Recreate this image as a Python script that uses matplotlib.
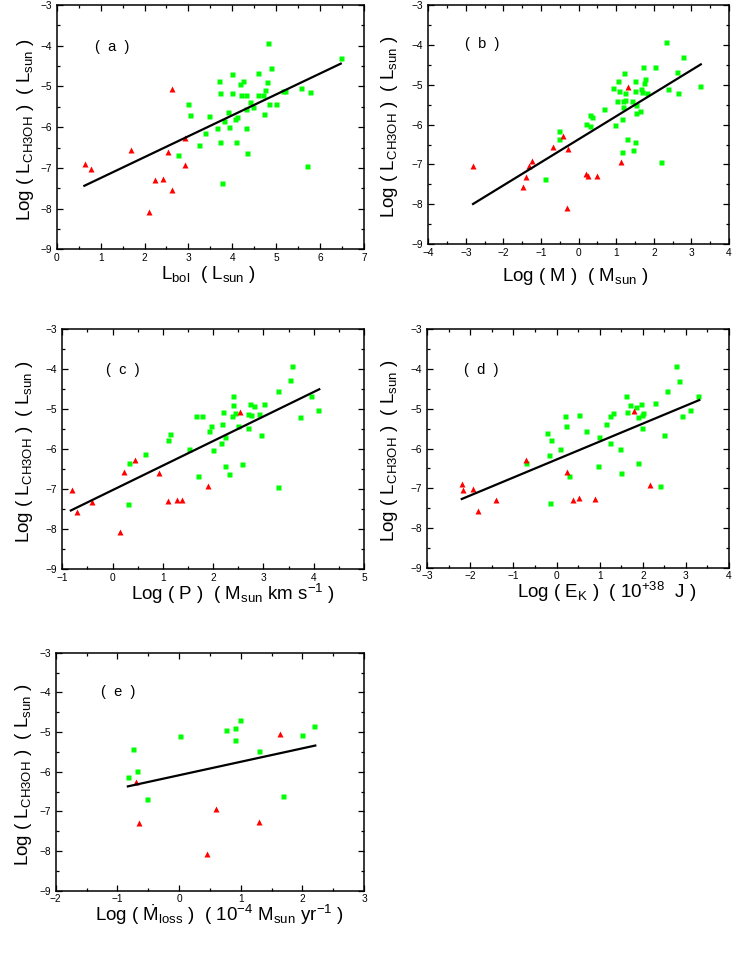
import matplotlib
matplotlib.use("Agg")
import matplotlib.pyplot as plt
from matplotlib.ticker import MultipleLocator

plt.rcParams['font.family'] = ['Liberation Sans', 'DejaVu Sans']
plt.rcParams['mathtext.fontset'] = 'custom'
plt.rcParams['mathtext.rm'] = 'Liberation Sans'
plt.rcParams['mathtext.it'] = 'Liberation Sans'

# ---- data ----
# (a) L_bol
a_red_x = [0.65, 0.78, 1.69, 2.63, 2.11, 2.23, 2.41, 2.53, 2.63, 2.92, 2.92]
a_red_y = [-6.90, -7.03, -6.56, -5.07, -8.08, -7.30, -7.28, -6.60, -7.55, -6.27, -6.93]
a_grn_x = [2.77, 2.98, 3.04, 3.25, 3.37, 3.46, 3.64, 3.70, 3.73, 3.73, 3.77, 3.80,
           3.91, 3.93, 3.99, 3.99, 4.05, 4.10, 4.09, 4.17, 4.24, 4.20, 4.31, 4.31,
           4.32, 4.34, 4.40, 4.47, 4.59, 4.58, 4.70, 4.74, 4.73, 4.79, 4.82, 4.84,
           4.89, 4.99, 5.15, 5.21, 5.57, 5.69, 5.76, 6.47]
a_grn_y = [-6.69, -5.42, -5.71, -6.43, -6.14, -5.73, -6.03, -4.87, -5.17, -6.37, -7.38, -5.86,
           -5.63, -6.00, -4.69, -5.15, -5.80, -5.75, -6.36, -4.95, -4.86, -5.21, -5.21, -5.55,
           -6.01, -6.63, -5.39, -5.50, -4.68, -5.20, -5.20, -5.09, -5.67, -4.90, -3.94, -5.42,
           -4.55, -5.43, -5.11, -5.11, -5.04, -6.95, -5.14, -4.30]
a_fit_x = [0.63, 6.47]
a_fit_y = [-7.44, -4.44]

# (b) M
b_red_x = [-2.81, -1.48, -1.41, -1.32, -1.23, -0.69, -0.41, -0.32, -0.28, 0.20, 0.24, 0.50, 1.12, 1.31]
b_red_y = [-7.03, -7.57, -7.32, -7.05, -6.91, -6.57, -6.28, -8.09, -6.61, -7.25, -7.28, -7.30, -6.94, -5.06]
b_grn_x = [-0.90, -0.53, -0.53, 0.29, 0.36, 0.20, 0.31, 0.68, 0.91, 0.98, 1.04, 1.06, 1.03,
           1.17, 1.16, 1.19, 1.21, 1.22, 1.24, 1.28, 1.14, 1.41, 1.45, 1.50, 1.51, 1.51,
           1.53, 1.53, 1.62, 1.65, 1.69, 1.70, 1.74, 1.76, 1.83, 2.02, 2.18, 2.33, 2.39,
           2.62, 2.64, 2.78, 3.23]
b_grn_y = [-7.37, -6.15, -6.37, -5.75, -5.80, -5.99, -6.03, -5.62, -5.09, -6.02, -4.91, -5.17, -5.42,
           -5.42, -5.85, -5.55, -4.70, -5.20, -5.38, -6.37, -6.69, -5.42, -6.63, -6.43, -4.90, -5.16,
           -5.50, -5.72, -5.67, -5.11, -5.19, -4.55, -4.96, -4.86, -5.21, -4.55, -6.94, -3.94, -5.11,
           -4.67, -5.21, -4.30, -5.04]
b_fit_x = [-2.81, 3.25]
b_fit_y = [-7.99, -4.49]

# (c) P
c_red_x = [-0.81, -0.71, -0.41, 0.15, 0.23, 0.45, 0.92, 1.11, 1.29, 1.39, 1.90, 2.54]
c_red_y = [-7.03, -7.57, -7.32, -8.08, -6.56, -6.27, -6.59, -7.29, -7.26, -7.28, -6.92, -5.06]
c_grn_x = [0.31, 0.33, 0.64, 1.10, 1.15, 1.51, 1.65, 1.69, 1.77, 1.91, 1.95, 2.00, 2.16,
           2.18, 2.20, 2.23, 2.24, 2.32, 2.37, 2.40, 2.40, 2.44, 2.50, 2.57, 2.70, 2.70,
           2.73, 2.75, 2.81, 2.91, 2.96, 3.02, 3.28, 3.29, 3.53, 3.56, 3.72, 3.95, 4.09]
c_grn_y = [-7.38, -6.35, -6.13, -5.78, -5.61, -6.00, -5.18, -6.68, -5.16, -5.55, -5.41, -6.02, -5.85,
           -5.38, -5.07, -6.42, -5.70, -6.61, -5.18, -4.68, -4.90, -5.10, -5.41, -6.36, -5.48, -5.13,
           -4.88, -5.15, -4.93, -5.11, -5.65, -4.86, -4.54, -6.95, -4.28, -3.92, -5.20, -4.68, -5.02]
c_fit_x = [-0.83, 4.11]
c_fit_y = [-7.53, -4.50]

# (d) E_K
d_red_x = [-2.20, -2.18, -1.93, -1.83, -1.41, -0.70, 0.24, 0.37, 0.53, 0.88, 1.80, 2.16]
d_red_y = [-6.90, -7.04, -7.02, -7.56, -7.30, -6.28, -6.59, -7.30, -7.25, -7.27, -5.06, -6.92]
d_grn_x = [-0.70, -0.23, -0.17, -0.12, -0.16, 0.07, 0.20, 0.22, 0.29, 0.53, 0.68, 0.98, 0.97,
           1.14, 1.23, 1.25, 1.30, 1.47, 1.50, 1.60, 1.63, 1.70, 1.84, 1.90, 1.90, 1.95,
           1.98, 2.01, 1.99, 2.29, 2.41, 2.49, 2.56, 2.78, 2.83, 2.90, 3.09, 3.29]
d_grn_y = [-6.36, -5.62, -6.15, -5.79, -7.37, -6.00, -5.19, -5.42, -6.68, -5.16, -5.56, -5.71, -6.43,
           -5.38, -5.85, -5.18, -5.11, -6.02, -6.62, -4.69, -5.07, -4.90, -4.95, -5.20, -6.36, -4.89,
           -5.15, -5.11, -5.48, -4.86, -6.95, -5.66, -4.54, -3.92, -4.29, -5.19, -5.02, -4.67]
d_fit_x = [-2.20, 3.31]
d_fit_y = [-7.27, -4.78]

# (e) mass loss rate
e_red_x = [-0.70, -0.65, 0.46, 0.60, 1.30, 1.63]
e_red_y = [-6.27, -7.30, -8.08, -6.93, -7.28, -5.06]
e_grn_x = [-0.83, -0.75, -0.68, -0.52, 0.01, 0.76, 0.90, 0.90, 0.99, 1.30, 1.69, 2.00, 2.19]
e_grn_y = [-6.13, -5.42, -5.98, -6.69, -5.11, -4.94, -4.90, -5.20, -4.69, -5.49, -6.62, -5.08, -4.86]
e_fit_x = [-0.83, 2.21]
e_fit_y = [-6.37, -5.34]

ylab = r'Log ( $\mathrm{L_{CH3OH}}$ )  ( $\mathrm{L_{sun}}$ )'

panels = [
    # tag, rect, xlim, data, xlabel, xlabel pos, ylabel x, tag pos
    ('a', [0.0759, 0.7422, 0.4114, 0.2526], (0, 7),
     (a_red_x, a_red_y, a_grn_x, a_grn_y, a_fit_x, a_fit_y),
     r'$\mathrm{L_{bol}}$  ( $\mathrm{L_{sun}}$ )', (0.494, -0.105), -0.103, (0.18, 0.83)),
    ('b', [0.5734, 0.7474, 0.4025, 0.2475], (-4, 4),
     (b_red_x, b_red_y, b_grn_x, b_grn_y, b_fit_x, b_fit_y),
     r'Log ( M )  ( $\mathrm{M_{sun}}$ )', (0.49, -0.135), -0.129, (0.178, 0.836)),
    ('c', [0.0834, 0.4113, 0.4039, 0.2482], (-1, 5),
     (c_red_x, c_red_y, c_grn_x, c_grn_y, c_fit_x, c_fit_y),
     r'Log ( P )  ( $\mathrm{M_{sun}}$ km s$^{\mathrm{-1}}$ )', (0.565, -0.103), -0.124, (0.2, 0.83)),
    ('d', [0.5720, 0.4129, 0.4039, 0.2465], (-3, 4),
     (d_red_x, d_red_y, d_grn_x, d_grn_y, d_fit_x, d_fit_y),
     r'Log ( $\mathrm{E_{K}}$ )  ( 10$^{\mathrm{+38}}$  J )', (0.595, -0.102), -0.125, (0.178, 0.83)),
    ('e', [0.0746, 0.0789, 0.4127, 0.2461], (-2, 3),
     (e_red_x, e_red_y, e_grn_x, e_grn_y, e_fit_x, e_fit_y),
     r'Log ( $\mathrm{\dot{M}_{loss}}$ )  ( 10$^{\mathrm{-4}}$ $\mathrm{M_{sun}}$ yr$^{\mathrm{-1}}$ )',
     (0.53, -0.102), -0.103, (0.203, 0.834)),
]

fig = plt.figure(figsize=(7.47, 9.67), dpi=100)

for tag, rect, xlim, data, xlabel, xlpos, ylx, tagpos in panels:
    rx, ry, gx, gy, fx, fy = data
    ax = fig.add_axes(rect)
    ax.plot(gx, gy, 's', color='#00ff00', ms=3.6, mec='none', zorder=3)
    ax.plot(rx, ry, '^', color='#ff0000', ms=4.2, mec='none', zorder=3)
    ax.plot(fx, fy, '-', color='black', lw=1.6, zorder=4)

    ax.set_xlim(*xlim)
    ax.set_ylim(-9, -3)
    ax.xaxis.set_major_locator(MultipleLocator(1))
    ax.xaxis.set_minor_locator(MultipleLocator(0.5))
    ax.yaxis.set_major_locator(MultipleLocator(1))
    ax.yaxis.set_minor_locator(MultipleLocator(0.5))
    ax.tick_params(which='both', direction='in', top=True, right=True, width=0.9, labelsize=7.3)
    ax.tick_params(axis='x', pad=2.5)
    ax.tick_params(axis='y', pad=3.5)
    ax.tick_params(which='major', length=4)
    ax.tick_params(which='minor', length=2.5)
    for s in ax.spines.values():
        s.set_linewidth(1.1)

    ax.set_xlabel(xlabel, fontsize=13.5)
    ax.xaxis.set_label_coords(*xlpos)
    ax.xaxis.label.set_va('center')
    ax.set_ylabel(ylab, fontsize=13.5)
    ax.yaxis.set_label_coords(ylx, 0.49)
    ax.yaxis.label.set_va('center')

    ax.text(tagpos[0], tagpos[1], '(  %s  )' % tag, transform=ax.transAxes,
            ha='center', va='center', fontsize=10.5)

fig.savefig('out.png', dpi=100)
